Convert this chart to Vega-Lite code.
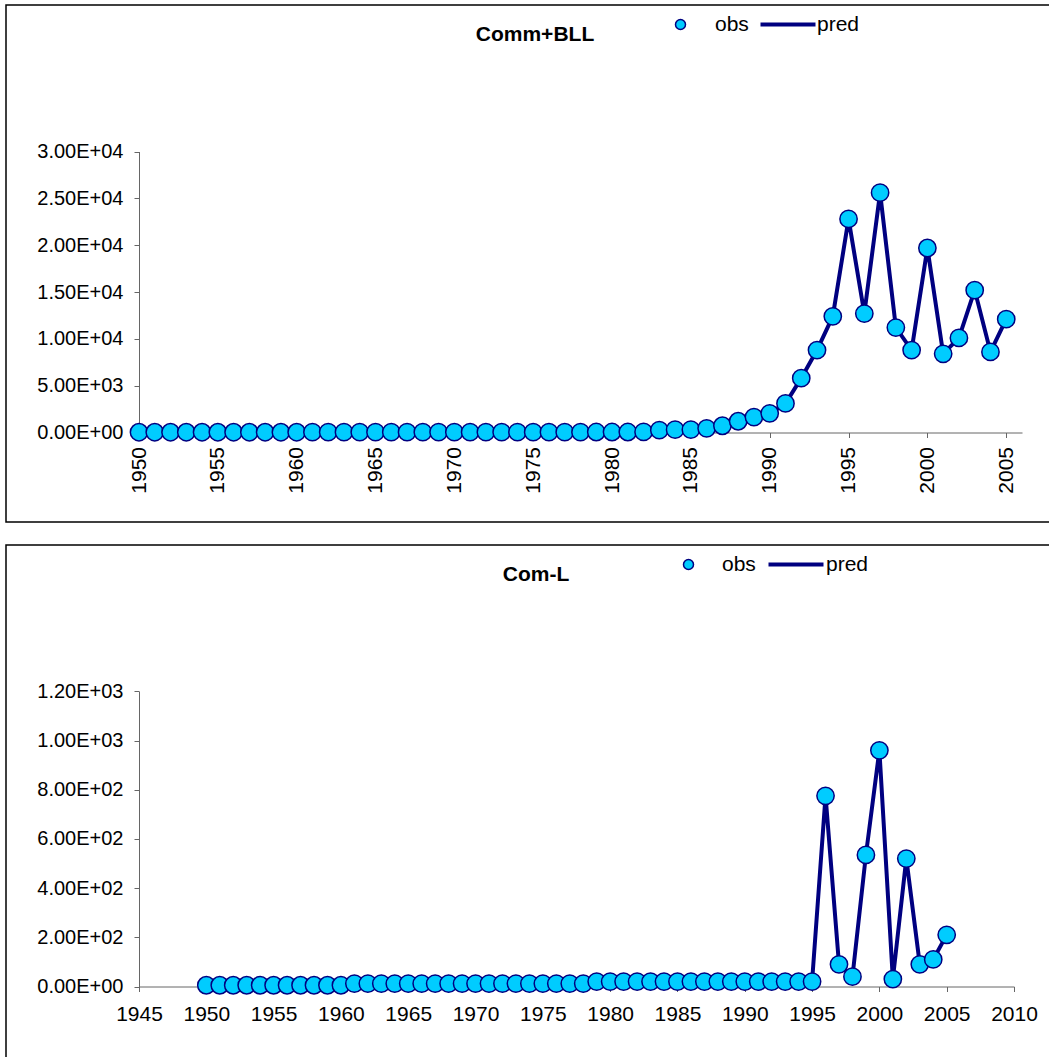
{
  "$schema": "https://vega.github.io/schema/vega-lite/v6.json",
  "padding": {"left": 5, "top": 4, "right": 0, "bottom": 0},
  "spacing": 21,
  "config": {
    "font": "Liberation Sans",
    "view": {"stroke": "#000000", "strokeWidth": 1.5},
    "axis": {"grid": false, "domainColor": "#666666", "tickColor": "#666666", "labelColor": "#000000", "labelFontSize": 20, "tickSize": 5, "title": null, "labelFont": "Liberation Sans", "labelFlush": false, "labelOverlap": false},
    "legend": {"labelFont": "Liberation Sans", "labelColor": "#000000"}
  },
  "datasets": {
    "comm": [
      {"year": 1950, "obs": 30, "pred": 30}, {"year": 1951, "obs": 30, "pred": 30}, {"year": 1952, "obs": 30, "pred": 30},
      {"year": 1953, "obs": 30, "pred": 30}, {"year": 1954, "obs": 30, "pred": 30}, {"year": 1955, "obs": 30, "pred": 30},
      {"year": 1956, "obs": 30, "pred": 30}, {"year": 1957, "obs": 30, "pred": 30}, {"year": 1958, "obs": 30, "pred": 30},
      {"year": 1959, "obs": 30, "pred": 30}, {"year": 1960, "obs": 30, "pred": 30}, {"year": 1961, "obs": 40, "pred": 40},
      {"year": 1962, "obs": 40, "pred": 40}, {"year": 1963, "obs": 40, "pred": 40}, {"year": 1964, "obs": 40, "pred": 40},
      {"year": 1965, "obs": 40, "pred": 40}, {"year": 1966, "obs": 40, "pred": 40}, {"year": 1967, "obs": 40, "pred": 40},
      {"year": 1968, "obs": 40, "pred": 40}, {"year": 1969, "obs": 40, "pred": 40}, {"year": 1970, "obs": 40, "pred": 40},
      {"year": 1971, "obs": 40, "pred": 40}, {"year": 1972, "obs": 40, "pred": 40}, {"year": 1973, "obs": 40, "pred": 40},
      {"year": 1974, "obs": 40, "pred": 40}, {"year": 1975, "obs": 40, "pred": 40}, {"year": 1976, "obs": 40, "pred": 40},
      {"year": 1977, "obs": 40, "pred": 40}, {"year": 1978, "obs": 40, "pred": 40}, {"year": 1979, "obs": 50, "pred": 50},
      {"year": 1980, "obs": 50, "pred": 50}, {"year": 1981, "obs": 50, "pred": 50}, {"year": 1982, "obs": 60, "pred": 60},
      {"year": 1983, "obs": 250, "pred": 250}, {"year": 1984, "obs": 300, "pred": 300}, {"year": 1985, "obs": 300, "pred": 300},
      {"year": 1986, "obs": 450, "pred": 450}, {"year": 1987, "obs": 720, "pred": 720}, {"year": 1988, "obs": 1200, "pred": 1200},
      {"year": 1989, "obs": 1650, "pred": 1650}, {"year": 1990, "obs": 2050, "pred": 2050}, {"year": 1991, "obs": 3100, "pred": 3100},
      {"year": 1992, "obs": 5800, "pred": 5800}, {"year": 1993, "obs": 8800, "pred": 8800}, {"year": 1994, "obs": 12400, "pred": 12400},
      {"year": 1995, "obs": 22800, "pred": 22800}, {"year": 1996, "obs": 12700, "pred": 12700}, {"year": 1997, "obs": 25600, "pred": 25600},
      {"year": 1998, "obs": 11200, "pred": 11200}, {"year": 1999, "obs": 8800, "pred": 8800}, {"year": 2000, "obs": 19700, "pred": 19700},
      {"year": 2001, "obs": 8400, "pred": 8400}, {"year": 2002, "obs": 10100, "pred": 10100}, {"year": 2003, "obs": 15200, "pred": 15200},
      {"year": 2004, "obs": 8600, "pred": 8600}, {"year": 2005, "obs": 12100, "pred": 12100}
    ],
    "coml": [
      {"year": 1950, "obs": 5, "pred": 5}, {"year": 1951, "obs": 5, "pred": 5}, {"year": 1952, "obs": 5, "pred": 5},
      {"year": 1953, "obs": 5, "pred": 5}, {"year": 1954, "obs": 5, "pred": 5}, {"year": 1955, "obs": 5, "pred": 5},
      {"year": 1956, "obs": 5, "pred": 5}, {"year": 1957, "obs": 5, "pred": 5}, {"year": 1958, "obs": 5, "pred": 5},
      {"year": 1959, "obs": 5, "pred": 5}, {"year": 1960, "obs": 5, "pred": 5}, {"year": 1961, "obs": 12, "pred": 12},
      {"year": 1962, "obs": 12, "pred": 12}, {"year": 1963, "obs": 12, "pred": 12}, {"year": 1964, "obs": 12, "pred": 12},
      {"year": 1965, "obs": 12, "pred": 12}, {"year": 1966, "obs": 12, "pred": 12}, {"year": 1967, "obs": 12, "pred": 12},
      {"year": 1968, "obs": 12, "pred": 12}, {"year": 1969, "obs": 12, "pred": 12}, {"year": 1970, "obs": 12, "pred": 12},
      {"year": 1971, "obs": 12, "pred": 12}, {"year": 1972, "obs": 12, "pred": 12}, {"year": 1973, "obs": 12, "pred": 12},
      {"year": 1974, "obs": 12, "pred": 12}, {"year": 1975, "obs": 12, "pred": 12}, {"year": 1976, "obs": 12, "pred": 12},
      {"year": 1977, "obs": 12, "pred": 12}, {"year": 1978, "obs": 12, "pred": 12}, {"year": 1979, "obs": 20, "pred": 20},
      {"year": 1980, "obs": 20, "pred": 20}, {"year": 1981, "obs": 20, "pred": 20}, {"year": 1982, "obs": 20, "pred": 20},
      {"year": 1983, "obs": 20, "pred": 20}, {"year": 1984, "obs": 20, "pred": 20}, {"year": 1985, "obs": 20, "pred": 20},
      {"year": 1986, "obs": 20, "pred": 20}, {"year": 1987, "obs": 20, "pred": 20}, {"year": 1988, "obs": 20, "pred": 20},
      {"year": 1989, "obs": 20, "pred": 20}, {"year": 1990, "obs": 20, "pred": 20}, {"year": 1991, "obs": 20, "pred": 20},
      {"year": 1992, "obs": 20, "pred": 20}, {"year": 1993, "obs": 20, "pred": 20}, {"year": 1994, "obs": 20, "pred": 20},
      {"year": 1995, "obs": 20, "pred": 20}, {"year": 1996, "obs": 775, "pred": 775}, {"year": 1997, "obs": 90, "pred": 90},
      {"year": 1998, "obs": 40, "pred": 40}, {"year": 1999, "obs": 535, "pred": 535}, {"year": 2000, "obs": 960, "pred": 960},
      {"year": 2001, "obs": 30, "pred": 30}, {"year": 2002, "obs": 520, "pred": 520}, {"year": 2003, "obs": 90, "pred": 90},
      {"year": 2004, "obs": 110, "pred": 110}, {"year": 2005, "obs": 210, "pred": 210}
    ]
  },
  "vconcat": [
    {
      "width": 1044,
      "height": 517,
      "title": {"text": "Comm+BLL", "fontSize": 21, "fontWeight": "bold", "anchor": "middle", "frame": "group", "offset": -40, "dx": 7, "color": "#000000"},
      "data": {"name": "comm"},
      "encoding": {
        "x": {
          "field": "year", "type": "quantitative",
          "scale": {"domain": [1950, 2006], "range": [133, 1016], "nice": false, "zero": false},
          "axis": {"values": [1950, 1955, 1960, 1965, 1970, 1975, 1980, 1985, 1990, 1995, 2000, 2005], "format": "d", "labelAngle": -90, "offset": -89.5, "labelPadding": 9, "labelFontSize": 21}
        }
      },
      "layer": [
        {
          "mark": {"type": "line", "strokeWidth": 4},
          "encoding": {
            "y": {"field": "pred", "type": "quantitative",
              "scale": {"domain": [0, 30000], "range": [427.5, 146.5], "nice": false},
              "axis": {"values": [0, 5000, 10000, 15000, 20000, 25000, 30000], "offset": -133, "labelPadding": 11, "labelExpr": "replace(format(datum.value, '.2e'), 'e+', 'E+0')"}},
            "stroke": {"datum": "pred", "scale": {"domain": ["pred"], "range": ["#000080"]},
              "legend": {"orient": "none", "legendX": 771.5, "legendY": 9, "symbolType": "M-5.5,0L5.5,0", "symbolSize": 100, "symbolStrokeWidth": 4, "labelFontSize": 21, "labelOffset": 18.5, "padding": 0, "title": null}}
          }
        },
        {
          "mark": {"type": "point", "filled": true, "size": 300, "stroke": "#000080", "strokeWidth": 1.5, "opacity": 1},
          "encoding": {
            "y": {"field": "obs", "type": "quantitative"},
            "fill": {"datum": "obs", "scale": {"domain": ["obs"], "range": ["#00CCFF"]},
              "legend": {"orient": "none", "legendX": 664, "legendY": 9, "symbolType": "circle", "symbolSize": 100, "symbolStrokeColor": "#000080", "symbolStrokeWidth": 1.5, "labelFontSize": 21, "labelOffset": 24, "padding": 0, "title": null}}
          }
        }
      ]
    },
    {
      "width": 1044,
      "height": 515,
      "title": {"text": "Com-L", "fontSize": 21, "fontWeight": "bold", "anchor": "middle", "frame": "group", "offset": -40, "dx": 8, "color": "#000000"},
      "data": {"name": "coml"},
      "encoding": {
        "x": {
          "field": "year", "type": "quantitative",
          "scale": {"domain": [1945, 2010], "range": [133, 1008], "nice": false, "zero": false},
          "axis": {"values": [1945, 1950, 1955, 1960, 1965, 1970, 1975, 1980, 1985, 1990, 1995, 2000, 2005, 2010], "format": "d", "labelAngle": 0, "offset": -73.5, "labelPadding": 12, "labelFontSize": 21}
        }
      },
      "layer": [
        {
          "mark": {"type": "line", "strokeWidth": 4},
          "encoding": {
            "y": {"field": "pred", "type": "quantitative",
              "scale": {"domain": [0, 1200], "range": [441.5, 146.3], "nice": false},
              "axis": {"values": [0, 200, 400, 600, 800, 1000, 1200], "offset": -133, "labelPadding": 11, "labelExpr": "replace(format(datum.value, '.2e'), 'e+', 'E+0')"}},
            "stroke": {"datum": "pred", "scale": {"domain": ["pred"], "range": ["#000080"]},
              "legend": {"orient": "none", "legendX": 779.5, "legendY": 9, "symbolType": "M-5.5,0L5.5,0", "symbolSize": 100, "symbolStrokeWidth": 4, "labelFontSize": 21, "labelOffset": 19.5, "padding": 0, "title": null}}
          }
        },
        {
          "mark": {"type": "point", "filled": true, "size": 300, "stroke": "#000080", "strokeWidth": 1.5, "opacity": 1},
          "encoding": {
            "y": {"field": "obs", "type": "quantitative"},
            "fill": {"datum": "obs", "scale": {"domain": ["obs"], "range": ["#00CCFF"]},
              "legend": {"orient": "none", "legendX": 672, "legendY": 9, "symbolType": "circle", "symbolSize": 100, "symbolStrokeColor": "#000080", "symbolStrokeWidth": 1.5, "labelFontSize": 21, "labelOffset": 23, "padding": 0, "title": null}}
          }
        }
      ]
    }
  ],
  "resolve": {"scale": {"stroke": "independent", "fill": "independent"}, "legend": {"stroke": "independent", "fill": "independent"}}
}
